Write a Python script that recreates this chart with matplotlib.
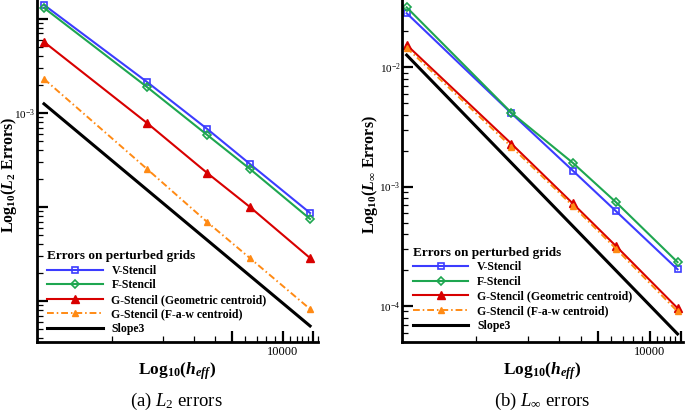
import matplotlib
matplotlib.use('Agg')
import matplotlib.pyplot as plt
from matplotlib.ticker import FixedLocator, FixedFormatter, NullFormatter

plt.rcParams['font.family'] = ['Liberation Serif', 'DejaVu Serif']
plt.rcParams['axes.unicode_minus'] = False
plt.rcParams['mathtext.fontset'] = 'custom'
plt.rcParams['mathtext.rm'] = 'Liberation Serif'
plt.rcParams['mathtext.it'] = 'Liberation Serif:italic'
plt.rcParams['mathtext.bf'] = 'Liberation Serif:bold'
if 'mathtext.bfit' in plt.rcParams:
    plt.rcParams['mathtext.bfit'] = 'Liberation Serif:italic:bold'
    BFIT = r'\mathbfit'
else:
    BFIT = r'\mathbf'

# ---------------- data ----------------
cells = [400, 1600, 3600, 6400, 14400]
slope_cells = [400, 14400]

l2_v = [1.41e-2, 2.14e-3, 6.76e-4, 2.87e-4, 8.63e-5]
l2_f = [1.31e-2, 1.89e-3, 5.84e-4, 2.54e-4, 7.45e-5]
l2_g_geo = [5.69e-3, 7.83e-4, 2.30e-4, 1.00e-4, 2.86e-5]
l2_g_faw = [2.30e-3, 2.54e-4, 6.92e-5, 2.86e-5, 8.2e-6]
l2_slope = [1.25e-3, 5.42e-6]

linf_v = [2.82e-2, 4.10e-3, 1.36e-3, 6.19e-4, 2.03e-4]
linf_f = [3.16e-2, 4.14e-3, 1.58e-3, 7.36e-4, 2.33e-4]
linf_g_geo = [1.53e-2, 2.28e-3, 7.22e-4, 3.16e-4, 9.6e-5]
linf_g_faw = [1.45e-2, 2.15e-3, 6.90e-4, 3.00e-4, 9.0e-5]
linf_slope = [1.26e-2, 5.84e-5]

labels = ['V-Stencil', 'F-Stencil', 'G-Stencil (Geometric centroid)',
          'G-Stencil (F-a-w centroid)', 'Slope3']
legend_title = 'Errors on perturbed grids'

x_major = [5000, 10000, 15000]
x_major_labels = ['', '10000', '']
x_minor = [1000, 2000, 3000, 4000, 6000, 7000, 8000, 9000,
           11000, 12000, 13000, 14000, 16000]

# ---------------- figure ----------------
W, H = 685, 417
fig = plt.figure(figsize=(W / 100, H / 100), dpi=100)

def px_axes(x0, x1, ytop, ybot):
    return fig.add_axes([x0 / W, 1 - ybot / H, (x1 - x0) / W, (ybot - ytop) / H])

axL = px_axes(37, 318, 0, 342)
axR = px_axes(402, 683, 0, 342)

blue = '#3c3cff'
green = '#1ea650'
red = '#d80000'
orange = '#ff8a14'

def draw(ax, v, f, g, gf, s):
    ax.plot(cells, v, color=blue, lw=1.5, marker='s', ms=5, mfc='none',
            mec=blue, mew=1.2, label=labels[0])
    ax.plot(cells, f, color=green, lw=1.5, marker='D', ms=4.5, mfc='none',
            mec=green, mew=1.2, label=labels[1])
    ax.plot(cells, g, color=red, lw=1.5, marker='^', ms=6, label=labels[2])
    ax.plot(cells, gf, color=orange, lw=1.4, marker='^', ms=4,
            ls=(0, (3.5, 1.5, 0.8, 1.5)), label=labels[3])
    ax.plot(slope_cells, s, color='black', lw=2.2, label=labels[4])

draw(axL, l2_v, l2_f, l2_g_geo, l2_g_faw, l2_slope)
draw(axR, linf_v, linf_f, linf_g_geo, linf_g_faw, linf_slope)

axL.set_xscale('log'); axL.set_yscale('log')
axR.set_xscale('log'); axR.set_yscale('log')
axL.set_xlim(364, 16024)
axR.set_xlim(376, 15480)
axL.set_ylim(3.66e-6, 1.59e-2)
axR.set_ylim(5.0e-5, 3.64e-2)

y_major = [1e-6, 1e-5, 1e-4, 1e-3, 1e-2, 1e-1]
y_minor = [m * d for d in [1e-6, 1e-5, 1e-4, 1e-3, 1e-2] for m in range(2, 10)]

for ax, ylabs in [(axL, {1e-3: r'$10^{-3}$'}),
                  (axR, {1e-2: r'$10^{-2}$', 1e-3: r'$10^{-3}$', 1e-4: r'$10^{-4}$'})]:
    ax.xaxis.set_major_locator(FixedLocator(x_major))
    ax.xaxis.set_major_formatter(FixedFormatter(x_major_labels))
    ax.xaxis.set_minor_locator(FixedLocator(x_minor))
    ax.xaxis.set_minor_formatter(NullFormatter())
    ax.yaxis.set_major_locator(FixedLocator(y_major))
    ax.yaxis.set_major_formatter(FixedFormatter([ylabs.get(t, '') for t in y_major]))
    ax.yaxis.set_minor_locator(FixedLocator(y_minor))
    ax.yaxis.set_minor_formatter(NullFormatter())
    ax.tick_params(which='major', direction='in', length=8, width=1.6,
                   labelsize=9, pad=3)
    ax.tick_params(which='minor', direction='in', length=4.5, width=0.9)
    ax.tick_params(axis='y', which='major', pad=1, labelsize=8)
    for sp in ['top', 'right']:
        ax.spines[sp].set_visible(False)
    for sp in ['left', 'bottom']:
        ax.spines[sp].set_linewidth(2)
    ax.set_xlabel(r'Log$_{\mathbf{10}}$($' + BFIT + r'{h}_{' + BFIT + r'{eff}}$)',
                  fontsize=12.5, fontweight='bold')
    ax.xaxis.set_label_coords(0.5, -0.085)
    ax.xaxis.label.set_va('center')

axL.set_ylabel(r'Log$_{\mathbf{10}}$($' + BFIT + r'{L}_{\mathbf{2}}$ Errors)',
               fontsize=11.5, fontweight='bold')
axL.yaxis.set_label_coords((9 - 37) / 281, 0.49)
axL.yaxis.label.set_va('center')
axR.set_ylabel(r'Log$_{\mathbf{10}}$($' + BFIT + r'{L}_{\mathbf{\infty}}$ Errors)',
               fontsize=11.5, fontweight='bold')
axR.yaxis.set_label_coords((370 - 402) / 281, 0.49)
axR.yaxis.label.set_va('center')

legprop = {'family': 'Liberation Serif', 'weight': 'bold', 'size': 8.5}
titleprop = {'family': 'Liberation Serif', 'weight': 'bold', 'size': 9.5}
for ax, anchor in [(axL, (0.036, 0.02)), (axR, (0.039, 0.03))]:
    leg = ax.legend(loc='lower left', bbox_to_anchor=anchor, frameon=False,
                    prop=legprop, title=legend_title,
                    title_fontproperties=titleprop, alignment='left',
                    handlelength=4.7, handletextpad=0.75, labelspacing=0.22,
                    borderpad=0, borderaxespad=0, numpoints=1)

fig.text(176 / W, 1 - 401 / H, r'(a) $L_2$ errors', ha='center', va='center',
         fontsize=13.5)
fig.text(542 / W, 1 - 401 / H, r'(b) $L_\infty$ errors', ha='center', va='center',
         fontsize=13.5)

fig.savefig('out.png', dpi=100)
